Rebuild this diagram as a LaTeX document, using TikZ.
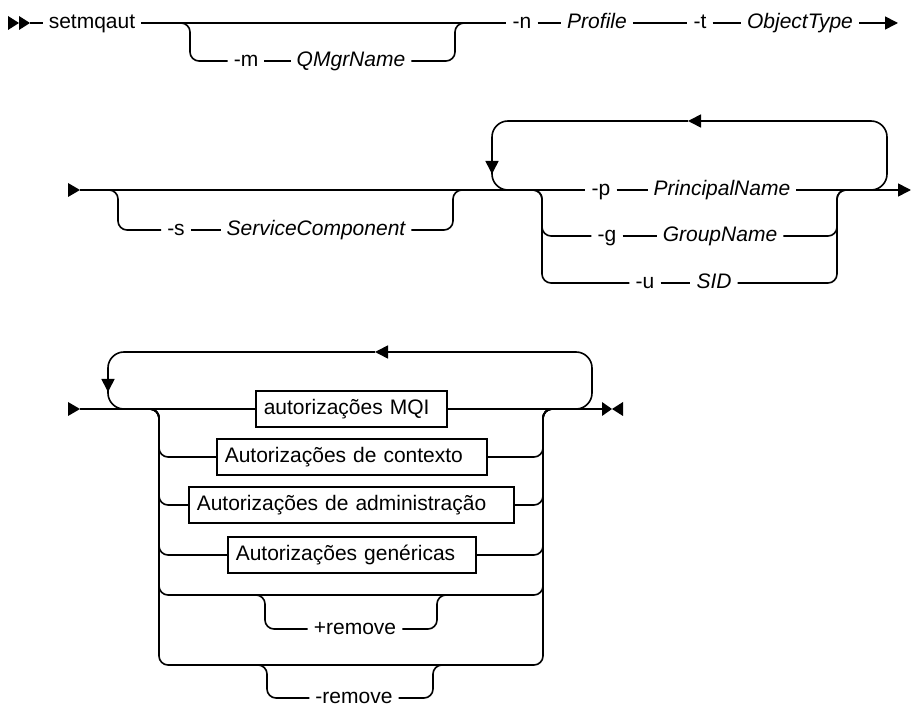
\documentclass[tikz,border=0pt]{standalone}
\usepackage{fontspec}
\setmainfont{Liberation Sans}
\usetikzlibrary{arrows.meta,positioning}

\begin{document}
\begin{tikzpicture}[x=1pt,y=-1pt]
  \tikzstyle{rail}=[line width=1.6pt,rounded corners=9pt]
  \tikzstyle{loopline}=[line width=1.6pt,rounded corners=16pt]
  \tikzstyle{railarrow}=[-{Triangle[length=13pt,width=13pt]}]
  \tikzstyle{kwd}=[inner xsep=6pt,inner ysep=0pt,text height=15pt,text depth=4pt,font=\fontsize{21}{24}\selectfont]
  \tikzstyle{vname}=[kwd,font=\fontsize{21}{24}\selectfont\itshape]
  \tikzstyle{authbox}=[kwd,draw,line width=1.6pt,anchor=west,inner xsep=8pt,inner ysep=8.5pt,align=left]
  \useasboundingbox (0,0) rectangle (911,711);

  \fill (8,16) -- (19,23) -- (8,30) -- cycle;
  \fill (19,16) -- (30,23) -- (19,30) -- cycle;
  \coordinate (start1) at (30,23);
  \node[kwd] (cmd) at (92,23) {setmqaut};
  \node[kwd] (mflag) at (246,61) {-m};
  \node[vname] (qmgr) at (351,61) {QMgrName};
  \node[kwd] (nflag) at (522,23) {-n};
  \node[vname] (profile) at (597,23) {Profile};
  \node[kwd] (tflag) at (700,23) {-t};
  \node[vname] (objtype) at (800,23) {ObjectType};
  \coordinate (mfork) at (178,23);
  \coordinate (end1) at (898,23);
  \draw[rail] (start1) -- (cmd.west);
  \draw[rail] (cmd.east) -- (nflag.west);
  \draw[rail] (mfork) -- ++(12,0) |- (mflag.west);
  \draw[rail] (mflag) -- (qmgr);
  \draw[rail] (qmgr.east) -| (455,23) -- ++(12,0);
  \draw[rail] (nflag) -- (profile);
  \draw[rail] (profile) -- (tflag);
  \draw[rail] (tflag) -- (objtype);
  \draw[rail,railarrow] (objtype.east) -- (end1);

  \fill (68,183) -- (80,190) -- (68,197) -- cycle;
  \coordinate (start2) at (80,190);
  \node[kwd] (sflag) at (176,230) {-s};
  \node[vname] (svc) at (316,230) {ServiceComponent};
  \node[kwd] (pflag) at (601,190) {-p};
  \node[vname] (principal) at (722,190) {PrincipalName};
  \node[kwd] (gflag) at (607,236) {-g};
  \node[vname] (group) at (720,236) {GroupName};
  \node[kwd] (uflag) at (645,283) {-u};
  \node[vname] (sid) at (714,283) {SID};
  \coordinate (sfork) at (106,190);
  \coordinate (pfork) at (530,190);
  \coordinate (end2) at (911,190);
  \draw[rail] (start2) -- (pflag.west);
  \draw[rail] (sfork) -- ++(12,0) |- (sflag.west);
  \draw[rail] (sflag) -- (svc);
  \draw[rail] (svc.east) -| (453,190) -- ++(12,0);
  \draw[rail] (pflag) -- (principal);
  \draw[rail,railarrow] (principal.east) -- (end2);
  \draw[rail] (pfork) -- ++(12,0) |- (gflag.west);
  \draw[rail] (pfork) -- ++(12,0) |- (uflag.west);
  \draw[rail] (gflag) -- (group);
  \draw[rail] (uflag) -- (sid);
  \draw[rail] (group.east) -| (837,190) -- ++(12,0);
  \draw[rail] (sid.east) -| (837,190) -- ++(12,0);
  \draw[loopline,railarrow] (865,190) -- (887,190) -- (887,121) -- (688,121);
  \draw[loopline,railarrow] (688,121) -- (492,121) -- (492,174);
  \draw[loopline] (492,172) -- (492,190) -- (514,190);

  \fill (68,402) -- (80,409) -- (68,416) -- cycle;
  \coordinate (start3) at (80,409);
  \node[authbox,text width=175pt] (mqi) at (255,409) {autorizações MQI};
  \node[authbox,text width=254pt] (ctx) at (216,457) {Autorizações de contexto};
  \node[authbox,text width=309pt] (adm) at (188,505) {Autorizações de administração};
  \node[authbox,text width=232pt] (gen) at (227,555) {Autorizações genéricas};
  \node[kwd] (plusrm) at (355,629) {+remove};
  \node[kwd] (minusrm) at (354,698) {-remove};
  \coordinate (afork) at (147,409);
  \coordinate (plusrow) at (350,595);
  \coordinate (minusrow) at (350,665);
  \coordinate (plusfork) at (253,595);
  \coordinate (minusfork) at (255,665);
  \coordinate (end3) at (602,409);
  \draw[rail] (start3) -- (mqi.west);
  \draw[rail] (mqi.east) -- (end3);
  \foreach \bx in {ctx,adm,gen} {
    \draw[rail] (afork) -- ++(12,0) |- (\bx.west);
    \draw[rail] (\bx.east) -| (543,409) -- ++(12,0);
  }
  \foreach \rw in {plusrow,minusrow}
    \draw[rail] (afork) -- ++(12,0) |- (\rw) -| (543,409) -- ++(12,0);
  \draw[rail] (plusfork) -- ++(12,0) |- (plusrm.west);
  \draw[rail] (plusrm.east) -| (437,595) -- ++(12,0);
  \draw[rail] (minusfork) -- ++(12,0) |- (minusrm.west);
  \draw[rail] (minusrm.east) -| (433,665) -- ++(12,0);
  \draw[loopline,railarrow] (570,409) -- (592,409) -- (592,352) -- (375,352);
  \draw[loopline,railarrow] (375,352) -- (108,352) -- (108,392);
  \draw[loopline] (108,390) -- (108,409) -- (130,409);
  \fill (602,402) -- (612,409) -- (602,416) -- cycle;
  \fill (623,402) -- (612,409) -- (623,416) -- cycle;
\end{tikzpicture}
\end{document}
